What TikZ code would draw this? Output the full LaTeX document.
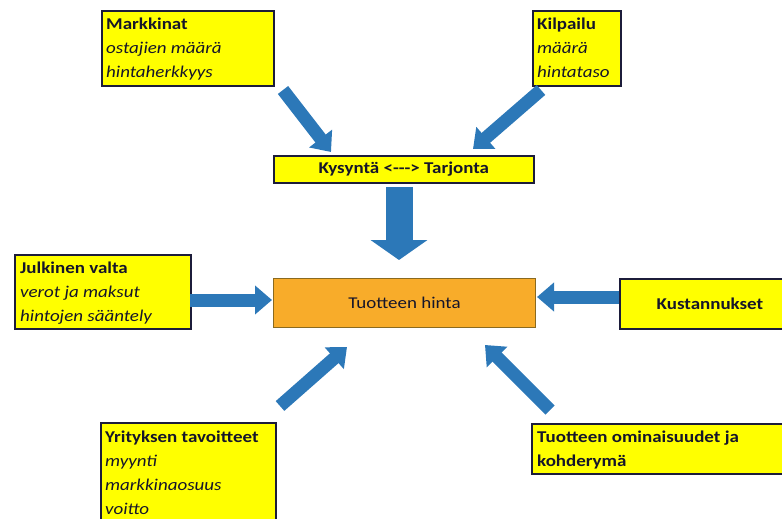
\documentclass[tikz,border=0pt]{standalone}
\usepackage{fontspec}
\setmainfont{Carlito}[FakeStretch=1.15]
\usetikzlibrary{arrows.meta}
\definecolor{ybox}{HTML}{FFFF00}
\definecolor{yedge}{HTML}{1C1C3A}
\definecolor{obox}{HTML}{F8AC2A}
\definecolor{oedge}{HTML}{8A6A20}
\definecolor{arr}{HTML}{2C78B8}
\definecolor{txt}{HTML}{15152A}
\tikzset{
  yellowbox/.style={draw=yedge, line width=1.8pt, fill=ybox, inner sep=0pt, anchor=north west,
    align=left, text=txt, font=\fontsize{16.5}{24}\selectfont},
  boxtext/.style={anchor=north west, align=left, inner sep=0pt, text=txt, font=\fontsize{16.5}{24}\selectfont},
  pricebox/.style={draw=oedge, line width=1pt, fill=obox, inner sep=0pt, anchor=north west, text=txt,
    font=\fontsize{16.5}{24}\selectfont},
  bigarrow/.style={draw=arr, line width=13pt, -{Triangle[width=28pt,length=17pt]}},
  fatarrow/.style={draw=arr, line width=27pt, -{Triangle[width=56pt,length=20pt]}},
}
\begin{document}
\begin{tikzpicture}[x=1pt,y=-1pt]
\useasboundingbox (0,0) rectangle (782,519);
\clip (0,0) rectangle (782,519);
% boxes
\node[yellowbox, minimum width=172pt, minimum height=75pt] (mk) at (101,10) {};
\node[boxtext] at (106,18) {\textbf{Markkinat}\\\textit{ostajien määrä}\\\textit{hintaherkkyys}};
\node[yellowbox, minimum width=88pt, minimum height=75pt] (ki) at (532,10) {};
\node[boxtext] at (537,18) {\textbf{Kilpailu}\\\textit{määrä}\\\textit{hintataso}};
\node[yellowbox, minimum width=260pt, minimum height=27pt, font=\bfseries\fontsize{16.5}{24}\selectfont, align=center] (ky) at (273,155) {\raisebox{-1pt}{Kysyntä <-\kern0pt-\kern0pt-> Tarjonta}};
\node[yellowbox, minimum width=176pt, minimum height=74pt] (jv) at (14,254) {};
\node[boxtext] at (20,262) {\textbf{Julkinen valta}\\\textit{verot ja maksut}\\\textit{hintojen sääntely}};
\node[pricebox, minimum width=262pt, minimum height=49pt] (th) at (273,278) {Tuotteen hinta};
\node[yellowbox, minimum width=180pt, minimum height=50pt, font=\bfseries\fontsize{16.5}{24}\selectfont, align=center, text width=176pt] (ku) at (619,278) {Kustannukset};
\node[yellowbox, minimum width=175pt, minimum height=104pt] (yt) at (100,422) {};
\node[boxtext] at (105,431) {\textbf{Yrityksen tavoitteet}\\\textit{myynti}\\\textit{markkinaosuus}\\\textit{voitto}};
\node[yellowbox, minimum width=260pt, minimum height=50pt] (to) at (531,423) {};
\node[boxtext] at (537,431) {\textbf{Tuotteen ominaisuudet ja}\\\textbf{kohderymä}};
% arrow end points
\coordinate (a1) at (283,90);  \coordinate (a2) at (331,152);
\coordinate (b1) at (541,90);  \coordinate (b2) at (473,149);
\coordinate (c1) at (399,187); \coordinate (c2) at (399,260);
\coordinate (d1) at (190,300); \coordinate (d2) at (272,300);
\coordinate (e1) at (619,297); \coordinate (e2) at (537,297);
\coordinate (f1) at (280,406); \coordinate (f2) at (347,347);
\coordinate (g1) at (550,410); \coordinate (g2) at (485,345);
\draw[bigarrow] (a1) -- (a2);
\draw[bigarrow] (b1) -- (b2);
\draw[fatarrow] (c1) -- (c2);
\draw[bigarrow] (d1) -- (d2);
\draw[bigarrow] (e1) -- (e2);
\draw[bigarrow] (f1) -- (f2);
\draw[bigarrow] (g1) -- (g2);
\end{tikzpicture}
\end{document}
